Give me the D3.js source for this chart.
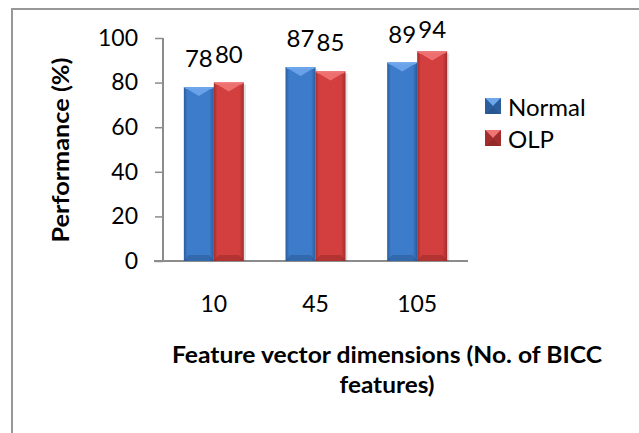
<!DOCTYPE html>
<html>
<head>
<meta charset="utf-8">
<script src="https://cdn.jsdelivr.net/npm/d3@7"></script>
<style>
  html, body { margin: 0; padding: 0; background: #fff; }
  svg { display: block; }
  text { font-family: Lato, "Open Sans", sans-serif; fill: #000; }
</style>
</head>
<body>
<svg id="chart" width="639" height="433"></svg>
<script>
// Feature vector dimensions (number of BICC features)
const categories = ["10", "45", "105"];
const seriesNames = ["Normal", "OLP"];
const normalValues = [78, 87, 89];
const olpValues = [80, 85, 94];
const yTicks = [0, 20, 40, 60, 80, 100];

const seriesValues = [normalValues, olpValues];
const palette = {
  Normal: { edge: "#2b5c9b", mid: "#3d7cca", light: "#6ea6ec", dark: "#234c80" },
  OLP:    { edge: "#a12d2d", mid: "#d33f3f", light: "#ef7474", dark: "#842424" }
};

const svg = d3.select("#chart");
const defs = svg.append("defs");

seriesNames.forEach(name => {
  const c = palette[name];
  const g = defs.append("linearGradient").attr("id", "grad-" + name)
    .attr("x1", 0).attr("x2", 1).attr("y1", 0).attr("y2", 0);
  g.append("stop").attr("offset", "0%").attr("stop-color", c.edge);
  g.append("stop").attr("offset", "12%").attr("stop-color", c.mid);
  g.append("stop").attr("offset", "85%").attr("stop-color", c.mid);
  g.append("stop").attr("offset", "100%").attr("stop-color", c.edge);
});

// Chart frame
svg.append("path")
  .attr("d", "M12,433 L12,9 L639,9")
  .attr("fill", "none").attr("stroke", "#979797").attr("stroke-width", 2);

const x0 = d3.scaleBand().domain(categories).range([163, 468]).padding(0);
const x1 = d3.scaleBand().domain(seriesNames).range([0, x0.bandwidth()])
  .paddingInner(0).paddingOuter(0.695);
const y = d3.scaleLinear().domain([0, 100]).range([261, 38]);

// Y axis
const yAxis = d3.axisLeft(y).tickValues(yTicks).tickSize(8).tickPadding(17).tickFormat(d3.format("d"));
const gy = svg.append("g").attr("transform", "translate(163,0)").call(yAxis);
gy.select(".domain").attr("stroke", "#8c8c8c").attr("stroke-width", 2)
  .attr("d", `M0,${y(100)}V${y(0)}`);
gy.selectAll(".tick line").attr("stroke", "#8c8c8c").attr("stroke-width", 1.5);
gy.selectAll(".tick text").attr("font-size", 23).attr("font-family", "Lato").attr("fill", "#000");

// X axis
const xAxis = d3.axisBottom(x0).tickSize(0).tickPadding(51);
const gx = svg.append("g").attr("transform", `translate(0,${y(0)})`).call(xAxis);
gx.select(".domain").attr("stroke", "#8c8c8c").attr("stroke-width", 2)
  .attr("d", "M154,0H468");
gx.selectAll(".tick text").attr("font-size", 23).attr("font-family", "Lato").attr("fill", "#000")
  .attr("dy", "0");

// Bars with bevelled faces
const groups = svg.append("g").selectAll("g")
  .data(categories)
  .join("g")
  .attr("transform", d => `translate(${x0(d)},0)`);

const barData = (cat, i) => seriesNames.map((s, k) => ({ series: s, value: seriesValues[k][i] }));

const bars = groups.selectAll("g.bar")
  .data((d, i) => barData(d, i))
  .join("g").attr("class", "bar");

bars.each(function (d) {
  const g = d3.select(this);
  const c = palette[d.series];
  const xa = x1(d.series), w = x1.bandwidth();
  const xb = xa + w, xc = xa + w / 2;
  const yt = y(d.value), yb = y(0);
  // soft shadow
  g.append("rect").attr("x", xa + 2).attr("y", yt + 2).attr("width", w).attr("height", yb - yt - 2)
    .attr("fill", "#000").attr("opacity", 0.12);
  g.append("rect").attr("x", xa).attr("y", yt).attr("width", w).attr("height", yb - yt)
    .attr("fill", `url(#grad-${d.series})`);
  // top bevel
  g.append("path").attr("d", `M${xa},${yt}L${xb},${yt}L${xc},${yt + 9}Z`)
    .attr("fill", c.light).attr("opacity", 0.9);
  g.append("path").attr("d", `M${xa},${yt}L${xb},${yt}L${xb - 2},${yt + 2}L${xa + 2},${yt + 2}Z`)
    .attr("fill", c.light);
  // bottom bevel
  g.append("path").attr("d", `M${xa},${yb}L${xb},${yb}L${xb - 5},${yb - 6}L${xa + 5},${yb - 6}Z`)
    .attr("fill", c.dark).attr("opacity", 0.4);
});

// Value labels
bars.append("text")
  .attr("x", d => x1(d.series) + x1.bandwidth() / 2)
  .attr("y", d => Math.max(y(d.value) - 20, y(100)))
  .attr("text-anchor", "middle")
  .attr("font-size", 24)
  .text(d => d.value);

// Legend
const legend = svg.append("g");
seriesNames.forEach((s, i) => {
  const c = palette[s];
  const ly = 98 + i * 32;
  const lg = legend.append("g").attr("transform", `translate(485,${ly})`);
  lg.append("rect").attr("width", 16).attr("height", 16).attr("fill", c.mid);
  lg.append("path").attr("d", "M0,0L16,0L8,8Z").attr("fill", c.light);
  lg.append("path").attr("d", "M0,16L16,16L8,8Z").attr("fill", c.dark).attr("opacity", 0.8);
  lg.append("path").attr("d", "M0,0L8,8L0,16Z").attr("fill", c.edge);
  lg.append("path").attr("d", "M16,0L8,8L16,16Z").attr("fill", c.edge);
  lg.append("text").attr("x", 23).attr("y", 18).attr("font-size", 24).text(s);
});

// Axis titles
svg.append("text")
  .attr("transform", "translate(69,150) rotate(-90)")
  .attr("text-anchor", "middle")
  .attr("font-weight", "bold").attr("font-size", 22)
  .attr("textLength", 185).attr("lengthAdjust", "spacingAndGlyphs")
  .text("Performance (%)");

const xt = svg.append("text").attr("text-anchor", "middle")
  .attr("font-weight", "bold").attr("font-size", 23);
xt.append("tspan").attr("x", 387).attr("y", 363)
  .attr("textLength", 430).attr("lengthAdjust", "spacingAndGlyphs")
  .text("Feature vector dimensions (No. of BICC");
xt.append("tspan").attr("x", 387).attr("y", 393)
  .attr("textLength", 95).attr("lengthAdjust", "spacingAndGlyphs")
  .text("features)");
</script>
</body>
</html>
